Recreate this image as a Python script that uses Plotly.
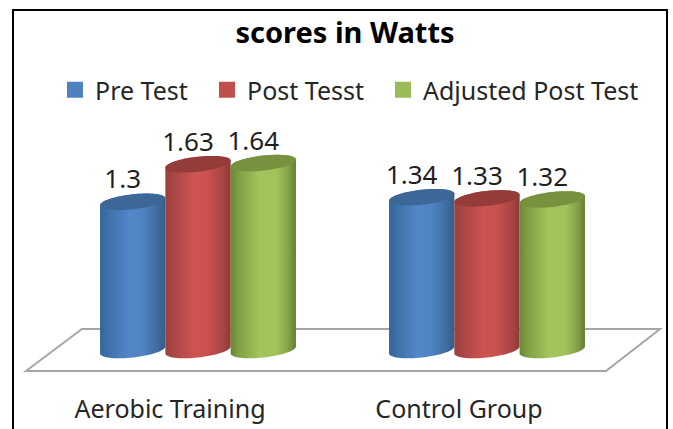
import numpy as np
import plotly.graph_objects as go

categories = ["Aerobic Training", "Control Group"]
series_names = ["Pre Test", "Post Tesst", "Adjusted Post Test"]
pre_test = [1.3, 1.34]
post_test = [1.63, 1.33]
adjusted_post_test = [1.64, 1.32]
value_labels_pre = ["1.3", "1.34"]
value_labels_post = ["1.63", "1.33"]
value_labels_adj = ["1.64", "1.32"]

W, H = 673, 429
MB = 37
PX_PER_CAT = 289.0
PX_PER_UNIT = 114.0
X0_PX, Y0_PX = 198.0, 350.0
BAR_W = 65.3 / PX_PER_CAT
FONT = "Noto Sans"

x_range = [-X0_PX / PX_PER_CAT, (W - X0_PX) / PX_PER_CAT]
y_range = [(Y0_PX - (H - MB)) / PX_PER_UNIT, Y0_PX / PX_PER_UNIT]

def px(x): return x / W
def py(y): return ((H - MB) - y) / (H - MB)

styles = [
    dict(cap="#3d6797", scale=[[0, "#32659c"], [0.12, "#3f70a8"], [0.45, "#5287c9"], [0.65, "#4f83c2"], [0.88, "#3e6c9f"], [1, "#335d8c"]], swatch="#4f81bd"),
    dict(cap="#943c3a", scale=[[0, "#9a403d"], [0.12, "#a84644"], [0.45, "#ce5451"], [0.65, "#c9514e"], [0.88, "#a84543"], [1, "#8c3937"]], swatch="#c0504d"),
    dict(cap="#77923e", scale=[[0, "#6a8635"], [0.12, "#7f9f43"], [0.45, "#a3c45d"], [0.7, "#a2c35c"], [0.9, "#7f9e45"], [1, "#637d32"]], swatch="#9bbb59"),
]
values = [pre_test, post_test, adjusted_post_test]
labels = [value_labels_pre, value_labels_post, value_labels_adj]
legend_ids = ["legend", "legend2", "legend3"]
legend_x_px = [55, 207, 383]

t = np.linspace(0, 2 * np.pi, 73)
B_U, K_U = 7.5 / PX_PER_UNIT, 3.5 / PX_PER_UNIT

def ell(cx, v, tt):
    return cx + BAR_W / 2 * np.cos(tt), v + B_U * np.sin(tt) + K_U * np.cos(tt)

fig = go.Figure()
for s, name in enumerate(series_names):
    st = styles[s]
    for c, v in enumerate(values[s]):
        cx = c + (s - 1) * BAR_W
        top_t = np.linspace(0, np.pi, 37)
        bot_t = np.linspace(np.pi, 2 * np.pi, 37)
        xt, yt = ell(cx, v, top_t)
        xb, yb = ell(cx, 0, bot_t)
        xs = np.concatenate([xt, xb, xt[:1]])
        ys = np.concatenate([yt, yb, yt[:1]])
        fig.add_trace(go.Scatter(x=xs, y=ys, mode="none", fill="toself",
                                 fillgradient=dict(type="horizontal", colorscale=st["scale"]),
                                 showlegend=False, hoverinfo="skip"))
        xe, ye = ell(cx, v, t)
        fig.add_trace(go.Scatter(x=xe, y=ye, mode="none", fill="toself", fillcolor=st["cap"],
                                 showlegend=False, hoverinfo="skip"))
    fig.add_trace(go.Scatter(x=[None], y=[None], mode="markers", name=name, legend=legend_ids[s],
                             marker=dict(symbol="square", size=16, color=st["swatch"])))

# data labels
for s in range(3):
    fig.add_trace(go.Scatter(
        x=[c + (s - 1) * BAR_W - 10 / PX_PER_CAT for c in range(2)],
        y=[v + 20 / PX_PER_UNIT for v in values[s]],
        text=labels[s], mode="text", textposition="middle center",
        textfont=dict(family=FONT, size=26, color="#1f1f1f"),
        showlegend=False, hoverinfo="skip"))

floor = f"M{px(26)},{py(371)} L{px(82)},{py(329)} L{px(660)},{py(329)} L{px(606)},{py(371)} Z"
frame = f"M{px(13)},{py(429)} L{px(13)},{py(10)} L{px(667)},{py(10)} L{px(667)},{py(429)}"
legend_common = dict(orientation="h", xanchor="left", y=py(90), yanchor="middle",
                     font=dict(family=FONT, size=25, color="#262626"),
                     bgcolor="rgba(0,0,0,0)", itemsizing="trace")
fig.update_layout(
    width=W, height=H, autosize=False,
    margin=dict(l=0, r=0, t=0, b=MB),
    paper_bgcolor="white", plot_bgcolor="white",
    font=dict(family=FONT, color="#1f1f1f"),
    title=dict(text="<b>scores in Watts</b>", x=345 / W, xanchor="center", xref="paper",
               y=1 - 33 / H, yanchor="middle", yref="container",
               font=dict(family=FONT, size=29, color="#000000")),
    legend=dict(x=legend_x_px[0] / W, **legend_common),
    legend2=dict(x=legend_x_px[1] / W, **legend_common),
    legend3=dict(x=legend_x_px[2] / W, **legend_common),
    xaxis=dict(range=x_range, tickmode="array", tickvals=[0 - 28 / PX_PER_CAT, 1 - 28 / PX_PER_CAT],
               ticktext=categories, showgrid=False, zeroline=False, showline=False,
               ticks="", tickfont=dict(family=FONT, size=25, color="#262626"), fixedrange=True),
    yaxis=dict(range=y_range, visible=False, showgrid=False, zeroline=False, fixedrange=True),
    shapes=[
        dict(type="path", path=floor, xref="paper", yref="paper", layer="below",
             line=dict(color="#a6a6a6", width=2), fillcolor="white"),
        dict(type="path", path=frame, xref="paper", yref="paper", layer="above",
             line=dict(color="#000000", width=2), fillcolor="rgba(0,0,0,0)"),
    ],
)
fig.write_html("out.html", config=dict(displayModeBar=False),
               post_script="document.body.style.margin='0';")
